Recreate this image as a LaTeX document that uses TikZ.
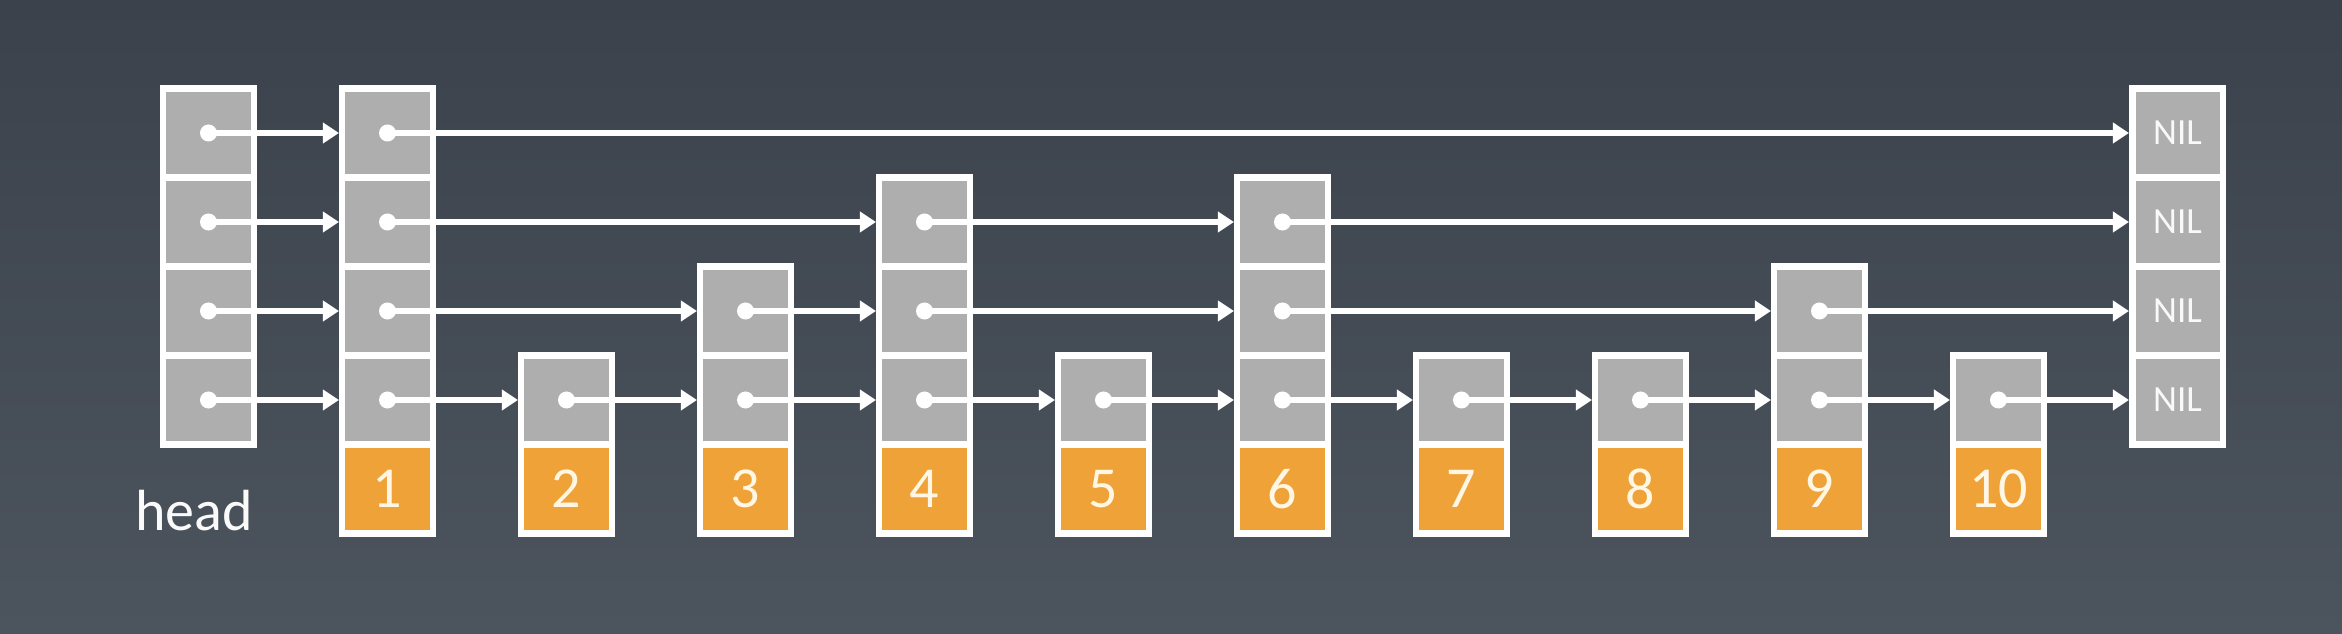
\documentclass[tikz,border=0pt]{standalone}
\usepackage{fontspec}
\setmainfont{Carlito}
\usetikzlibrary{arrows.meta}
\definecolor{bgtop}{HTML}{3B424C}
\definecolor{bgbot}{HTML}{4C545E}
\definecolor{cellgray}{HTML}{AEAEAE}
\definecolor{keyorange}{HTML}{EFA238}
\definecolor{keytext}{HTML}{FFF6E4}
\tikzset{
  cell/.style={draw=white, line width=0.65mm, fill=cellgray, minimum width=0.905cm, minimum height=0.89cm, inner sep=0pt},
  keycell/.style={cell, fill=keyorange, text=keytext, font=\fontsize{16.5}{18}\selectfont},
  nilcell/.style={cell, text=white!95!gray, font=\fontsize{10.5}{12}\selectfont},
  link/.style={white, line width=0.6mm, -{Triangle[length=1.6mm,width=2.0mm]}},
}
\begin{document}
\begin{tikzpicture}[x=0.01cm, y=-0.01cm]
\shade[top color=bgtop, bottom color=bgbot] (0,0) rectangle (2342,634);
\useasboundingbox (0,0) rectangle (2342,634);
% head column
\foreach \l in {1,...,4} {
  \pgfmathsetmacro\y{400-89*(\l-1)}
  \node[cell] (n0-\l) at (208.5,\y) {};
}
\node[text=white!96!gray, font=\fontsize{16.5}{18}\selectfont] (headlbl) at (194,511) {head};
% data nodes
\foreach \i/\h in {1/4,2/1,3/2,4/3,5/1,6/3,7/1,8/1,9/2,10/1} {
  \pgfmathsetmacro\x{208.5+179*\i}
  \node[keycell] (k\i) at (\x,489) {\i};
  \foreach \l in {1,...,\h} {
    \pgfmathsetmacro\y{400-89*(\l-1)}
    \node[cell] (n\i-\l) at (\x,\y) {};
  }
}
% NIL column
\foreach \l in {1,...,4} {
  \pgfmathsetmacro\y{400-89*(\l-1)}
  \node[nilcell] (n11-\l) at (2177.5,\y) {NIL};
}
% links
\foreach \a/\b/\l in {0/1/1,1/2/1,2/3/1,3/4/1,4/5/1,5/6/1,6/7/1,7/8/1,8/9/1,9/10/1,10/11/1,
                      0/1/2,1/3/2,3/4/2,4/6/2,6/9/2,9/11/2,
                      0/1/3,1/4/3,4/6/3,6/11/3,
                      0/1/4,1/11/4} {
  \draw[link] (n\a-\l.center) -- (n\b-\l.west);
  \fill[white] (n\a-\l.center) circle (0.085cm);
}
\end{tikzpicture}
\end{document}
